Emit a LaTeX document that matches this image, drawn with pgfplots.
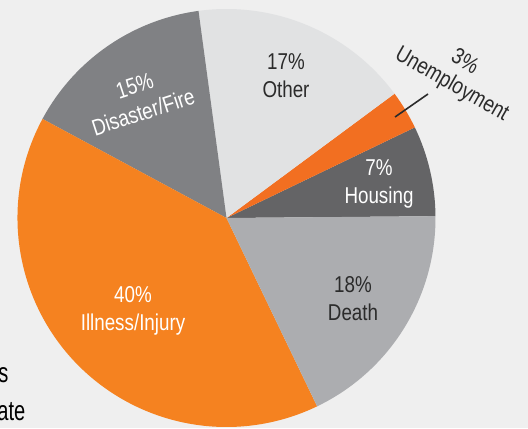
\documentclass[border=0pt]{standalone}
\usepackage{pgfplots}
\pgfplotsset{compat=1.18}
\usepackage{fontspec}
\setmainfont{Liberation Sans}[FakeStretch=0.82]
\newfontfamily\leftfont{Liberation Sans}[FakeStretch=0.72]
\definecolor{bgcol}{HTML}{EFEFEF}
\definecolor{housing}{HTML}{646466}
\definecolor{unemp}{HTML}{F26F21}
\definecolor{other}{HTML}{E1E2E3}
\definecolor{disaster}{HTML}{808184}
\definecolor{illness}{HTML}{F58220}
\definecolor{death}{HTML}{ACADB0}
\definecolor{darktext}{HTML}{2B2B2B}
% slice: start angle, percent, colour
\newcommand{\slice}[3]{%
  \fill[#3] (axis cs:226.5,210) -- ++({#1}:209bp)
    arc[start angle={#1}, end angle={#1+3.6*#2}, radius=209bp] -- cycle;}
\begin{document}
\begin{tikzpicture}[x=1bp,y=1bp]
\clip (0,0) rectangle (528,428);
\fill[bgcol] (0,0) rectangle (528,428);
\begin{axis}[at={(0,0)}, anchor=south west, x=1bp, y=1bp,
  xmin=0, xmax=528, ymin=0, ymax=428, hide axis, scale only axis, clip=false]
\slice{0.5}{7}{housing}
\slice{0.5+3.6*7}{3}{unemp}
\slice{0.5+3.6*10}{17}{other}
\slice{0.5+3.6*27}{15}{disaster}
\slice{0.5+3.6*42}{40}{illness}
\slice{0.5+3.6*82}{18}{death}
\tikzset{lab/.style={align=center, font=\fontsize{23}{28}\selectfont, inner sep=0pt}}
\node[lab, text=darktext] at (axis cs:286,352) {17\%\\Other};
\node[lab, text=white, rotate=18] at (axis cs:139,329) {15\%\\Disaster/Fire};
\node[lab, text=white] at (axis cs:379,244) {7\%\\Housing};
\node[lab, text=darktext] at (axis cs:353,129) {18\%\\Death};
\node[lab, text=white] at (axis cs:133,117) {40\%\\Illness/Injury};
\node[lab, text=darktext, rotate=-29.6, font=\fontsize{23}{26}\selectfont] at (axis cs:458,354) {3\%\\Unemployment};
\draw[darktext, line width=1.6bp] (axis cs:395,311) -- (axis cs:428,334);
\node[anchor=base east, inner sep=0pt, text=black, font=\leftfont\fontsize{28}{30}\selectfont] at (axis cs:8.5,46) {s};
\node[anchor=base east, inner sep=0pt, text=black, font=\leftfont\fontsize{28}{30}\selectfont] at (axis cs:25.5,8) {ate};
\end{axis}
\end{tikzpicture}
\end{document}
